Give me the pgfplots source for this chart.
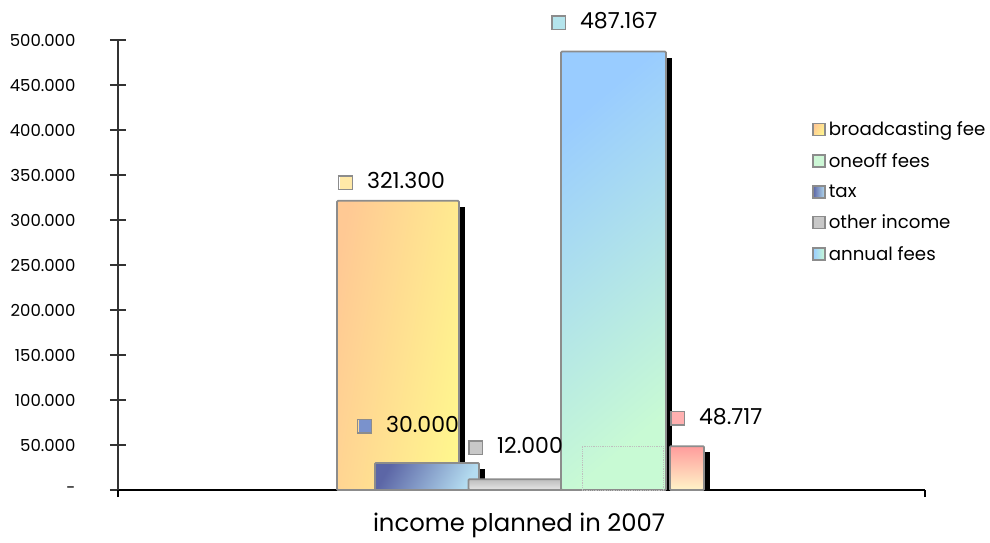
\documentclass[border=0pt]{standalone}
\usepackage{fontspec}
\setmainfont{Poppins}
\usepackage{pgfplots}
\pgfplotsset{compat=1.18}
\definecolor{barline}{HTML}{8C8C8C}
\definecolor{bfA}{HTML}{FFC994}
\definecolor{bfB}{HTML}{FFF68E}
\definecolor{bfL}{HTML}{FFE9A8}
\definecolor{taxA}{HTML}{5C66A6}
\definecolor{taxB}{HTML}{B4DCF0}
\definecolor{taxL}{HTML}{7A92CC}
\definecolor{othA}{HTML}{BDBDBD}
\definecolor{othB}{HTML}{E6E6E6}
\definecolor{othL}{HTML}{C8C8C8}
\definecolor{annA}{HTML}{99CCFF}
\definecolor{annB}{HTML}{C8FAD4}
\definecolor{annL}{HTML}{B4E4EC}
\definecolor{oneL}{HTML}{CDF7D6}
\definecolor{pnkA}{HTML}{FF9C9C}
\definecolor{pnkB}{HTML}{FFF4C8}
\definecolor{pnkL}{HTML}{FFB0B0}
\newcommand\lbox[1]{\raisebox{0pt}{\setlength\fboxrule{1.6pt}\setlength\fboxsep{0pt}\fcolorbox{barline}{#1}{\rule{0pt}{12pt}\rule{12pt}{0pt}}}}
\pgfplotstableread{
x broadcasting tax other oneoff annual extra
1 321.300 30.000 12.000 48.717 487.167 48.717
}\income
\begin{document}
\begin{tikzpicture}
\useasboundingbox (-118pt,-52pt) rectangle (872pt,490pt);
\begin{axis}[
  at={(0pt,0pt)}, anchor=south west,
  scale only axis, width=807pt, height=450pt,
  xmin=0, xmax=2, ymin=0, ymax=500,
  /pgf/number format/assume math mode=true,
  axis x line=bottom, axis y line=left,
  axis line style={-, line width=1.6pt},
  x axis line style={black}, y axis line style={black!80},
  xtick=\empty,
  extra x ticks={0,2}, extra x tick labels={},
  extra x tick style={major tick length=7pt, tick align=outside, tick style={black, line width=1.6pt}},
  ytick={0,50,...,500},
  yticklabels={-,50.000,100.000,150.000,200.000,250.000,300.000,350.000,400.000,450.000,500.000},
  ytick align=center, major tick length=16pt,
  y tick style={black!80, line width=1.4pt},
  yticklabel style={font=\fontsize{16.5}{16.5}\selectfont, anchor=east, xshift=-31pt},
  xlabel={income planned in 2007},
  xlabel style={font=\fontsize{24.3}{24.3}\selectfont, at={(axis description cs:0.497,0)}, anchor=center, yshift=-35pt},
  legend style={at={(rel axis cs:0.86,0.825)}, anchor=north west, draw=none, fill=none,
    font=\fontsize{18.2}{18.2}\selectfont, row sep=10pt, inner sep=0pt,
    /tikz/every even column/.style={column sep=3pt},
    nodes={inner sep=3pt}},
  legend cell align=left,
  legend image code/.code={\draw[#1, draw=barline, line width=1.6pt] (0pt,-6pt) rectangle (12pt,6pt);},
  every node near coord/.append style={font=\fontsize{22}{22}\selectfont, text=black, anchor=west, inner sep=0pt},
]
\addlegendimage{left color=bfA, right color=bfB, shading angle=60}
\addlegendentry{broadcasting fee}
\addlegendimage{fill=oneL}
\addlegendentry{oneoff fees}
\addlegendimage{left color=taxA, right color=taxB}
\addlegendentry{tax}
\addlegendimage{fill=othL}
\addlegendentry{other income}
\addlegendimage{left color=annA, right color=annB}
\addlegendentry{annual fees}
% broadcasting fee
\addplot[ybar, bar width=122pt, bar shift=-123.5pt, fill=black, draw=none, xshift=6pt, yshift=-6pt, forget plot] table[x=x, y=broadcasting] {\income};
\addplot[ybar, bar width=122pt, bar shift=-123.5pt, draw=barline, line width=1.8pt, rounded corners=1pt,
  left color=bfA, right color=bfB, shading angle=80, forget plot,
  nodes near coords={\lbox{bfL}\hspace{14pt}\pgfmathprintnumber[fixed,zerofill,precision=3]{\pgfplotspointmeta}},
  every node near coord/.append style={xshift=-184.5pt, yshift=19.5pt}] table[x=x, y=broadcasting] {\income};
% tax
\addplot[ybar, bar width=104pt, bar shift=-94.5pt, fill=black, draw=none, xshift=6pt, yshift=-6pt, forget plot] table[x=x, y=tax] {\income};
\addplot[ybar, bar width=104pt, bar shift=-94.5pt, draw=barline, line width=1.8pt, rounded corners=1pt,
  top color=taxA, bottom color=taxB, shading angle=60, forget plot,
  nodes near coords={\lbox{taxL}\hspace{14pt}\pgfmathprintnumber[fixed,zerofill,precision=3]{\pgfplotspointmeta}},
  every node near coord/.append style={xshift=-165.5pt, yshift=38pt}] table[x=x, y=tax] {\income};
% other income
\addplot[ybar, bar width=96pt, bar shift=-5pt, draw=barline, line width=1.8pt, rounded corners=1pt,
  top color=othA, bottom color=othB, forget plot,
  nodes near coords={\lbox{othL}\hspace{14pt}\pgfmathprintnumber[fixed,zerofill,precision=3]{\pgfplotspointmeta}},
  every node near coord/.append style={xshift=-54.5pt, yshift=33pt}] table[x=x, y=other] {\income};
% annual fees
\addplot[ybar, bar width=105pt, bar shift=92pt, fill=black, draw=none, xshift=6pt, yshift=-6pt, forget plot] table[x=x, y=annual] {\income};
\addplot[ybar, bar width=105pt, bar shift=92pt, draw=barline, line width=1.8pt, rounded corners=1pt,
  top color=annA, bottom color=annB, shading angle=40, forget plot,
  nodes near coords={\lbox{annL}\hspace{14pt}\pgfmathprintnumber[fixed,zerofill,precision=3]{\pgfplotspointmeta}},
  every node near coord/.append style={xshift=28.5pt, yshift=30pt}] table[x=x, y=annual] {\income};
% oneoff fees (hidden behind annual fees)
\addplot[ybar, bar width=81pt, bar shift=101pt, draw=black!25, densely dotted, line width=0.8pt, fill=none, forget plot] table[x=x, y=oneoff] {\income};
% pink bar
\addplot[ybar, bar width=34pt, bar shift=165.5pt, fill=black, draw=none, xshift=6pt, yshift=-6pt, forget plot] table[x=x, y=extra] {\income};
\addplot[ybar, bar width=34pt, bar shift=165.5pt, draw=barline, line width=1.8pt, rounded corners=1pt,
  top color=pnkA, bottom color=pnkB, forget plot,
  nodes near coords={\lbox{pnkL}\hspace{14pt}\pgfmathprintnumber[fixed,zerofill,precision=3]{\pgfplotspointmeta}},
  every node near coord/.append style={xshift=147.5pt, yshift=29pt}] table[x=x, y=extra] {\income};
\end{axis}
\end{tikzpicture}
\end{document}
